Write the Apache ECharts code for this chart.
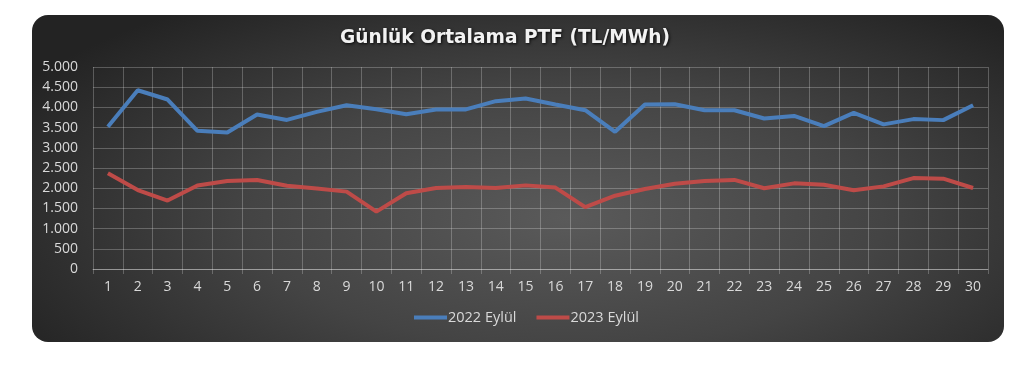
<!DOCTYPE html>
<html><head><meta charset="utf-8">
<script src="https://cdn.jsdelivr.net/npm/echarts@6/dist/echarts.min.js"></script>
<style>
html,body{margin:0;padding:0;background:#fff;}
#wrap{position:relative;width:1024px;height:374px;}
#bg{position:absolute;left:32px;top:15px;width:972px;height:327px;border-radius:16px;
background:radial-gradient(ellipse 65% 80% at 55% 62%, #5a5a5a 0%, #444 50%, #232323 100%);}
#chart{position:absolute;left:0;top:0;width:1024px;height:374px;}
</style></head>
<body><div id="wrap"><div id="bg"></div><div id="chart"></div></div>
<script>
const titleText = 'Günlük Ortalama PTF (TL/MWh)';
const days = ['1','2','3','4','5','6','7','8','9','10','11','12','13','14','15','16','17','18','19','20','21','22','23','24','25','26','27','28','29','30'];
const seriesNames = ['2022 Eylül','2023 Eylül'];
const eylul2022 = [3520,4425,4195,3420,3380,3825,3690,3890,4055,3955,3830,3950,3950,4155,4220,4070,3930,3395,4070,4080,3930,3930,3725,3790,3535,3865,3580,3710,3685,4055];
const eylul2023 = [2370,1955,1695,2065,2180,2205,2060,1990,1915,1420,1875,2005,2030,2005,2070,2015,1530,1815,1980,2110,2180,2205,1998,2120,2085,1950,2045,2250,2235,2005];
const yMin = 0, yMax = 5000, yStep = 500;

const chart = echarts.init(document.getElementById('chart'), null, {renderer:'canvas'});
const gridColor = 'rgba(255,255,255,0.24)';
const fmt = v => String(v).replace(/\B(?=(\d{3})+(?!\d))/g, '.');
chart.setOption({
  animation:false,
  backgroundColor:'transparent',
  title:{text:titleText,left:335,top:24,
    textStyle:{color:'#f2f2f2',fontSize:18.6,fontWeight:'bold',fontFamily:'DejaVu Sans',
      textShadowColor:'rgba(0,0,0,0.85)',textShadowBlur:3,textShadowOffsetX:1,textShadowOffsetY:1}},
  legend:{bottom:44,left:409,icon:'rect',itemWidth:33,itemHeight:4,itemGap:20,
    textStyle:{color:'#d9d9d9',fontSize:14.5,fontFamily:'Open Sans',padding:[0,0,0,-4]},data:seriesNames},
  grid:{left:93,right:36,top:67,bottom:105,containLabel:false},
  xAxis:{type:'category',data:days,boundaryGap:true,
    axisLine:{show:true,lineStyle:{color:'rgba(255,255,255,0.32)'}},
    axisTick:{show:true,length:5,lineStyle:{color:gridColor}},
    splitLine:{show:true,lineStyle:{color:gridColor,width:1}},
    axisLabel:{color:'#d9d9d9',fontSize:14,fontFamily:'Open Sans',margin:11,interval:0}},
  yAxis:{type:'value',min:yMin,max:yMax,interval:yStep,
    axisLine:{show:false},axisTick:{show:false},
    splitLine:{show:true,lineStyle:{color:gridColor,width:1}},
    axisLabel:{color:'#d9d9d9',fontSize:14,fontFamily:'Open Sans',margin:15,formatter:fmt}},
  series:[
    {name:seriesNames[0],type:'line',data:eylul2022,showSymbol:false,symbol:'none',
      lineStyle:{color:'#4a7ebb',width:4},itemStyle:{color:'#4a7ebb'}},
    {name:seriesNames[1],type:'line',data:eylul2023,showSymbol:false,symbol:'none',
      lineStyle:{color:'#be4b48',width:4},itemStyle:{color:'#be4b48'}}
  ]
});
</script></body></html>
